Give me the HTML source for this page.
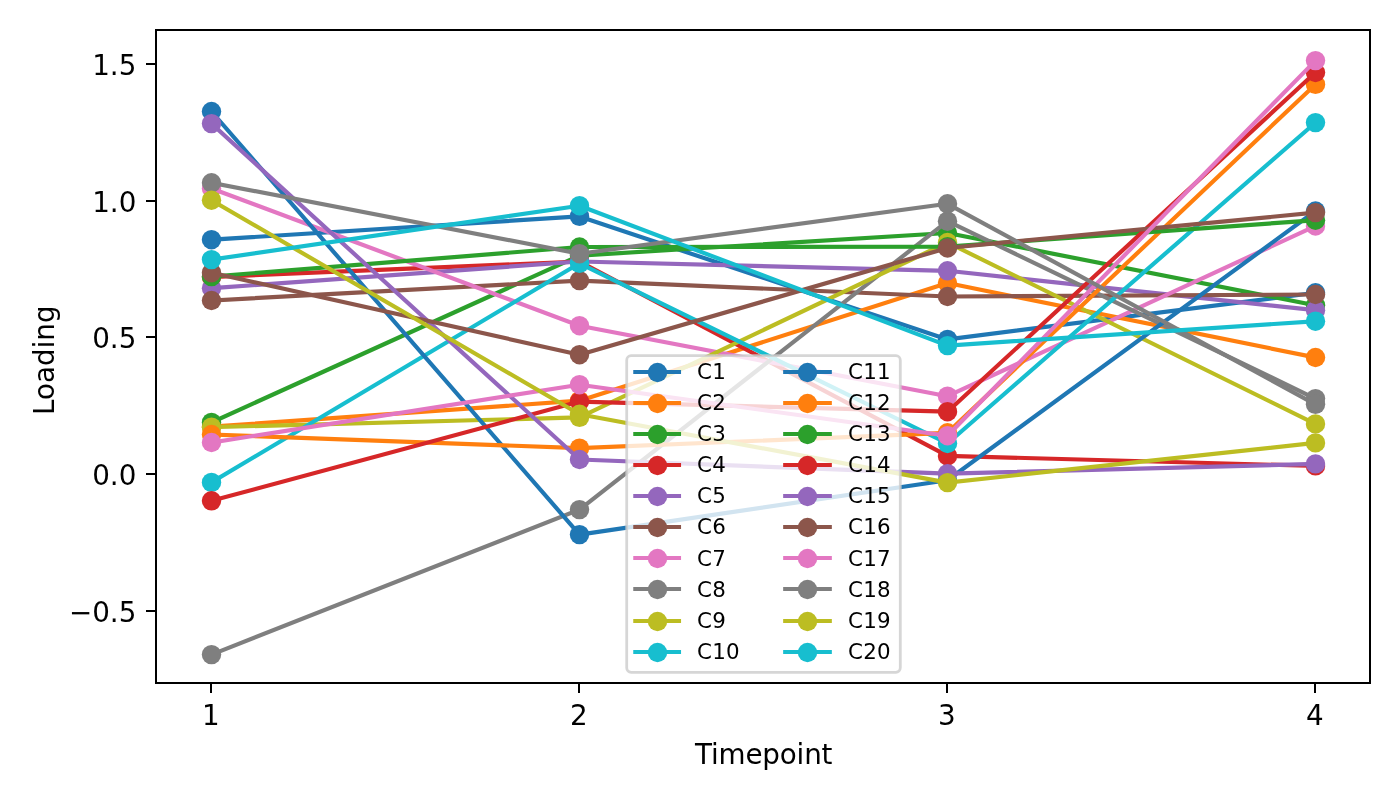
<!DOCTYPE html>
<html lang="en">
<head>
<meta charset="utf-8">
<title>Loading by Timepoint</title>
<style>
html,body{margin:0;padding:0;background:#fff;}
body{width:1400px;height:800px;overflow:hidden;}
svg{display:block;}
text{font-family:"DejaVu Sans", "Liberation Sans", sans-serif;fill:#000;}
</style>
</head>
<body>
<svg width="1400" height="800" viewBox="0 0 1400 800">
<rect x="0" y="0" width="1400" height="800" fill="#ffffff"/>
<defs><clipPath id="ax"><rect x="156.00" y="30.00" width="1214.00" height="653.00"/></clipPath></defs>
<g clip-path="url(#ax)" fill="none" stroke-width="4.17" stroke-linejoin="round" stroke-linecap="square">
<g stroke="#1f77b4" fill="#1f77b4"><polyline fill="none" points="211.5,239.7 579.5,216.4 947.5,339.4 1315.5,292.8"/><circle cx="211.5" cy="239.7" r="9.72" stroke="none"/><circle cx="579.5" cy="216.4" r="9.72" stroke="none"/><circle cx="947.5" cy="339.4" r="9.72" stroke="none"/><circle cx="1315.5" cy="292.8" r="9.72" stroke="none"/></g>
<g stroke="#ff7f0e" fill="#ff7f0e"><polyline fill="none" points="211.5,426.7 579.5,400.7 947.5,283.0 1315.5,357.5"/><circle cx="211.5" cy="426.7" r="9.72" stroke="none"/><circle cx="579.5" cy="400.7" r="9.72" stroke="none"/><circle cx="947.5" cy="283.0" r="9.72" stroke="none"/><circle cx="1315.5" cy="357.5" r="9.72" stroke="none"/></g>
<g stroke="#2ca02c" fill="#2ca02c"><polyline fill="none" points="211.5,422.4 579.5,255.6 947.5,233.0 1315.5,305.3"/><circle cx="211.5" cy="422.4" r="9.72" stroke="none"/><circle cx="579.5" cy="255.6" r="9.72" stroke="none"/><circle cx="947.5" cy="233.0" r="9.72" stroke="none"/><circle cx="1315.5" cy="305.3" r="9.72" stroke="none"/></g>
<g stroke="#d62728" fill="#d62728"><polyline fill="none" points="211.5,277.0 579.5,261.5 947.5,455.9 1315.5,465.9"/><circle cx="211.5" cy="277.0" r="9.72" stroke="none"/><circle cx="579.5" cy="261.5" r="9.72" stroke="none"/><circle cx="947.5" cy="455.9" r="9.72" stroke="none"/><circle cx="1315.5" cy="465.9" r="9.72" stroke="none"/></g>
<g stroke="#9467bd" fill="#9467bd"><polyline fill="none" points="211.5,288.2 579.5,261.5 947.5,270.8 1315.5,310.2"/><circle cx="211.5" cy="288.2" r="9.72" stroke="none"/><circle cx="579.5" cy="261.5" r="9.72" stroke="none"/><circle cx="947.5" cy="270.8" r="9.72" stroke="none"/><circle cx="1315.5" cy="310.2" r="9.72" stroke="none"/></g>
<g stroke="#8c564b" fill="#8c564b"><polyline fill="none" points="211.5,300.5 579.5,280.6 947.5,296.5 1315.5,294.5"/><circle cx="211.5" cy="300.5" r="9.72" stroke="none"/><circle cx="579.5" cy="280.6" r="9.72" stroke="none"/><circle cx="947.5" cy="296.5" r="9.72" stroke="none"/><circle cx="1315.5" cy="294.5" r="9.72" stroke="none"/></g>
<g stroke="#e377c2" fill="#e377c2"><polyline fill="none" points="211.5,188.5 579.5,325.7 947.5,396.2 1315.5,226.0"/><circle cx="211.5" cy="188.5" r="9.72" stroke="none"/><circle cx="579.5" cy="325.7" r="9.72" stroke="none"/><circle cx="947.5" cy="396.2" r="9.72" stroke="none"/><circle cx="1315.5" cy="226.0" r="9.72" stroke="none"/></g>
<g stroke="#7f7f7f" fill="#7f7f7f"><polyline fill="none" points="211.5,654.6 579.5,509.6 947.5,221.2 1315.5,398.6"/><circle cx="211.5" cy="654.6" r="9.72" stroke="none"/><circle cx="579.5" cy="509.6" r="9.72" stroke="none"/><circle cx="947.5" cy="221.2" r="9.72" stroke="none"/><circle cx="1315.5" cy="398.6" r="9.72" stroke="none"/></g>
<g stroke="#bcbd22" fill="#bcbd22"><polyline fill="none" points="211.5,427.2 579.5,417.4 947.5,242.5 1315.5,423.9"/><circle cx="211.5" cy="427.2" r="9.72" stroke="none"/><circle cx="579.5" cy="417.4" r="9.72" stroke="none"/><circle cx="947.5" cy="242.5" r="9.72" stroke="none"/><circle cx="1315.5" cy="423.9" r="9.72" stroke="none"/></g>
<g stroke="#17becf" fill="#17becf"><polyline fill="none" points="211.5,482.4 579.5,263.3 947.5,443.5 1315.5,122.6"/><circle cx="211.5" cy="482.4" r="9.72" stroke="none"/><circle cx="579.5" cy="263.3" r="9.72" stroke="none"/><circle cx="947.5" cy="443.5" r="9.72" stroke="none"/><circle cx="1315.5" cy="122.6" r="9.72" stroke="none"/></g>
<g stroke="#1f77b4" fill="#1f77b4"><polyline fill="none" points="211.5,111.5 579.5,534.6 947.5,480.2 1315.5,211.0"/><circle cx="211.5" cy="111.5" r="9.72" stroke="none"/><circle cx="579.5" cy="534.6" r="9.72" stroke="none"/><circle cx="947.5" cy="480.2" r="9.72" stroke="none"/><circle cx="1315.5" cy="211.0" r="9.72" stroke="none"/></g>
<g stroke="#ff7f0e" fill="#ff7f0e"><polyline fill="none" points="211.5,434.5 579.5,448.2 947.5,432.8 1315.5,84.4"/><circle cx="211.5" cy="434.5" r="9.72" stroke="none"/><circle cx="579.5" cy="448.2" r="9.72" stroke="none"/><circle cx="947.5" cy="432.8" r="9.72" stroke="none"/><circle cx="1315.5" cy="84.4" r="9.72" stroke="none"/></g>
<g stroke="#2ca02c" fill="#2ca02c"><polyline fill="none" points="211.5,276.6 579.5,247.0 947.5,246.6 1315.5,220.2"/><circle cx="211.5" cy="276.6" r="9.72" stroke="none"/><circle cx="579.5" cy="247.0" r="9.72" stroke="none"/><circle cx="947.5" cy="246.6" r="9.72" stroke="none"/><circle cx="1315.5" cy="220.2" r="9.72" stroke="none"/></g>
<g stroke="#d62728" fill="#d62728"><polyline fill="none" points="211.5,500.8 579.5,401.6 947.5,411.7 1315.5,72.5"/><circle cx="211.5" cy="500.8" r="9.72" stroke="none"/><circle cx="579.5" cy="401.6" r="9.72" stroke="none"/><circle cx="947.5" cy="411.7" r="9.72" stroke="none"/><circle cx="1315.5" cy="72.5" r="9.72" stroke="none"/></g>
<g stroke="#9467bd" fill="#9467bd"><polyline fill="none" points="211.5,123.6 579.5,459.5 947.5,473.7 1315.5,463.9"/><circle cx="211.5" cy="123.6" r="9.72" stroke="none"/><circle cx="579.5" cy="459.5" r="9.72" stroke="none"/><circle cx="947.5" cy="473.7" r="9.72" stroke="none"/><circle cx="1315.5" cy="463.9" r="9.72" stroke="none"/></g>
<g stroke="#8c564b" fill="#8c564b"><polyline fill="none" points="211.5,272.7 579.5,354.7 947.5,248.0 1315.5,212.6"/><circle cx="211.5" cy="272.7" r="9.72" stroke="none"/><circle cx="579.5" cy="354.7" r="9.72" stroke="none"/><circle cx="947.5" cy="248.0" r="9.72" stroke="none"/><circle cx="1315.5" cy="212.6" r="9.72" stroke="none"/></g>
<g stroke="#e377c2" fill="#e377c2"><polyline fill="none" points="211.5,442.5 579.5,384.7 947.5,435.7 1315.5,60.6"/><circle cx="211.5" cy="442.5" r="9.72" stroke="none"/><circle cx="579.5" cy="384.7" r="9.72" stroke="none"/><circle cx="947.5" cy="435.7" r="9.72" stroke="none"/><circle cx="1315.5" cy="60.6" r="9.72" stroke="none"/></g>
<g stroke="#7f7f7f" fill="#7f7f7f"><polyline fill="none" points="211.5,182.8 579.5,253.7 947.5,203.8 1315.5,404.3"/><circle cx="211.5" cy="182.8" r="9.72" stroke="none"/><circle cx="579.5" cy="253.7" r="9.72" stroke="none"/><circle cx="947.5" cy="203.8" r="9.72" stroke="none"/><circle cx="1315.5" cy="404.3" r="9.72" stroke="none"/></g>
<g stroke="#bcbd22" fill="#bcbd22"><polyline fill="none" points="211.5,200.2 579.5,414.3 947.5,482.6 1315.5,442.9"/><circle cx="211.5" cy="200.2" r="9.72" stroke="none"/><circle cx="579.5" cy="414.3" r="9.72" stroke="none"/><circle cx="947.5" cy="482.6" r="9.72" stroke="none"/><circle cx="1315.5" cy="442.9" r="9.72" stroke="none"/></g>
<g stroke="#17becf" fill="#17becf"><polyline fill="none" points="211.5,259.6 579.5,205.7 947.5,345.6 1315.5,321.2"/><circle cx="211.5" cy="259.6" r="9.72" stroke="none"/><circle cx="579.5" cy="205.7" r="9.72" stroke="none"/><circle cx="947.5" cy="345.6" r="9.72" stroke="none"/><circle cx="1315.5" cy="321.2" r="9.72" stroke="none"/></g>
</g>
<g stroke="#000" stroke-width="2.00" fill="none">
<line x1="146.00" y1="64.00" x2="156.00" y2="64.00"/><line x1="146.00" y1="201.00" x2="156.00" y2="201.00"/><line x1="146.00" y1="337.00" x2="156.00" y2="337.00"/><line x1="146.00" y1="474.00" x2="156.00" y2="474.00"/><line x1="146.00" y1="611.00" x2="156.00" y2="611.00"/><line x1="211.00" y1="683.00" x2="211.00" y2="693.00"/><line x1="579.00" y1="683.00" x2="579.00" y2="693.00"/><line x1="947.00" y1="683.00" x2="947.00" y2="693.00"/><line x1="1315.00" y1="683.00" x2="1315.00" y2="693.00"/>
<rect x="156.00" y="30.00" width="1214.00" height="653.00" stroke-linejoin="miter"/>
</g>
<g font-size="27.78px">
<text x="136.36" y="75.10" text-anchor="end">1.5</text><text x="136.36" y="212.10" text-anchor="end">1.0</text><text x="136.36" y="348.10" text-anchor="end">0.5</text><text x="136.36" y="485.10" text-anchor="end">0.0</text><text x="136.36" y="622.10" text-anchor="end">−0.5</text><text x="210.90" y="725.30" text-anchor="middle">1</text><text x="578.90" y="725.30" text-anchor="middle">2</text><text x="946.90" y="725.30" text-anchor="middle">3</text><text x="1314.90" y="725.30" text-anchor="middle">4</text>
<text x="763.7" y="764.1" text-anchor="middle" letter-spacing="-0.17">Timepoint</text>
<text transform="translate(54,360.2) rotate(-90)" text-anchor="middle">Loading</text>
</g>
<rect x="626.70" y="355.70" width="273.60" height="316.60" rx="4.44" ry="4.44" fill="#ffffff" fill-opacity="0.8" stroke="#cccccc" stroke-opacity="0.8" stroke-width="2.78"/>
<g font-size="21.4px" letter-spacing="0.25" stroke-width="4.1" stroke-linecap="square">
<line x1="635.30" y1="372.00" x2="679.00" y2="372.00" stroke="#1f77b4"/><circle cx="657.50" cy="372.50" r="9.72" fill="#1f77b4"/><text x="697.00" y="378.85">C1</text>
<line x1="635.30" y1="403.00" x2="679.00" y2="403.00" stroke="#ff7f0e"/><circle cx="657.50" cy="403.50" r="9.72" fill="#ff7f0e"/><text x="697.00" y="409.96">C2</text>
<line x1="635.30" y1="434.00" x2="679.00" y2="434.00" stroke="#2ca02c"/><circle cx="657.50" cy="434.50" r="9.72" fill="#2ca02c"/><text x="697.00" y="441.07">C3</text>
<line x1="635.30" y1="465.00" x2="679.00" y2="465.00" stroke="#d62728"/><circle cx="657.50" cy="465.50" r="9.72" fill="#d62728"/><text x="697.00" y="472.18">C4</text>
<line x1="635.30" y1="496.00" x2="679.00" y2="496.00" stroke="#9467bd"/><circle cx="657.50" cy="496.50" r="9.72" fill="#9467bd"/><text x="697.00" y="503.29">C5</text>
<line x1="635.30" y1="527.00" x2="679.00" y2="527.00" stroke="#8c564b"/><circle cx="657.50" cy="527.50" r="9.72" fill="#8c564b"/><text x="697.00" y="534.40">C6</text>
<line x1="635.30" y1="558.00" x2="679.00" y2="558.00" stroke="#e377c2"/><circle cx="657.50" cy="558.50" r="9.72" fill="#e377c2"/><text x="697.00" y="565.51">C7</text>
<line x1="635.30" y1="589.00" x2="679.00" y2="589.00" stroke="#7f7f7f"/><circle cx="657.50" cy="589.50" r="9.72" fill="#7f7f7f"/><text x="697.00" y="596.62">C8</text>
<line x1="635.30" y1="621.00" x2="679.00" y2="621.00" stroke="#bcbd22"/><circle cx="657.50" cy="621.50" r="9.72" fill="#bcbd22"/><text x="697.00" y="627.73">C9</text>
<line x1="635.30" y1="652.00" x2="679.00" y2="652.00" stroke="#17becf"/><circle cx="657.50" cy="652.50" r="9.72" fill="#17becf"/><text x="697.00" y="658.84">C10</text>
<line x1="785.20" y1="372.00" x2="829.80" y2="372.00" stroke="#1f77b4"/><circle cx="807.50" cy="372.50" r="9.72" fill="#1f77b4"/><text x="848.00" y="378.85">C11</text>
<line x1="785.20" y1="403.00" x2="829.80" y2="403.00" stroke="#ff7f0e"/><circle cx="807.50" cy="403.50" r="9.72" fill="#ff7f0e"/><text x="848.00" y="409.96">C12</text>
<line x1="785.20" y1="434.00" x2="829.80" y2="434.00" stroke="#2ca02c"/><circle cx="807.50" cy="434.50" r="9.72" fill="#2ca02c"/><text x="848.00" y="441.07">C13</text>
<line x1="785.20" y1="465.00" x2="829.80" y2="465.00" stroke="#d62728"/><circle cx="807.50" cy="465.50" r="9.72" fill="#d62728"/><text x="848.00" y="472.18">C14</text>
<line x1="785.20" y1="496.00" x2="829.80" y2="496.00" stroke="#9467bd"/><circle cx="807.50" cy="496.50" r="9.72" fill="#9467bd"/><text x="848.00" y="503.29">C15</text>
<line x1="785.20" y1="527.00" x2="829.80" y2="527.00" stroke="#8c564b"/><circle cx="807.50" cy="527.50" r="9.72" fill="#8c564b"/><text x="848.00" y="534.40">C16</text>
<line x1="785.20" y1="558.00" x2="829.80" y2="558.00" stroke="#e377c2"/><circle cx="807.50" cy="558.50" r="9.72" fill="#e377c2"/><text x="848.00" y="565.51">C17</text>
<line x1="785.20" y1="589.00" x2="829.80" y2="589.00" stroke="#7f7f7f"/><circle cx="807.50" cy="589.50" r="9.72" fill="#7f7f7f"/><text x="848.00" y="596.62">C18</text>
<line x1="785.20" y1="621.00" x2="829.80" y2="621.00" stroke="#bcbd22"/><circle cx="807.50" cy="621.50" r="9.72" fill="#bcbd22"/><text x="848.00" y="627.73">C19</text>
<line x1="785.20" y1="652.00" x2="829.80" y2="652.00" stroke="#17becf"/><circle cx="807.50" cy="652.50" r="9.72" fill="#17becf"/><text x="848.00" y="658.84">C20</text>
</g>
</svg>
</body>
</html>
